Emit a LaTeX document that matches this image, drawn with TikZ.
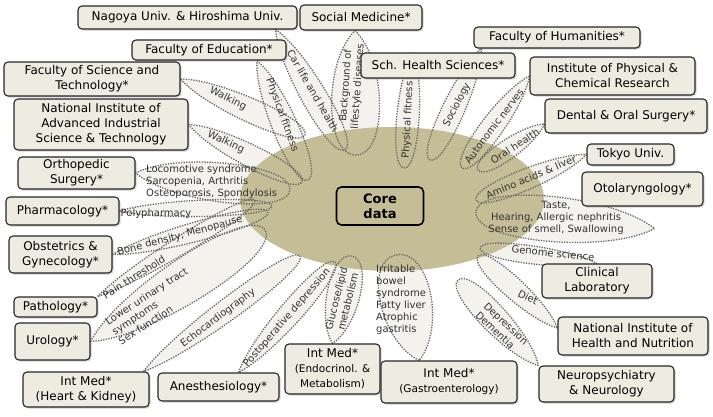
\documentclass[tikz,border=0pt]{standalone}
\usepackage{fontspec}
\setmainfont{DejaVu Sans}
\usetikzlibrary{calc,shadows}
\pgfdeclarelayer{back}
\pgfdeclarelayer{mid}
\pgfsetlayers{back,mid,main}
\definecolor{coreolive}{RGB}{197,189,150}
\definecolor{boxbeige}{RGB}{238,235,224}
\definecolor{petalgray}{RGB}{243,242,237}
\tikzset{
  inst/.style={draw=black!85, line width=1.1pt, rounded corners=4pt, fill=boxbeige,
    align=center, inner sep=1pt, font=\fontsize{12}{15}\selectfont,
    drop shadow={shadow xshift=1.5pt, shadow yshift=-1.5pt, opacity=0.35}},
  topic/.style={font=\fontsize{10}{12}\selectfont, text=black!80, inner sep=0pt},
  petal/.style={draw=black!60, line width=1.3pt, dash pattern=on 1.3pt off 1.3pt},
  core/.style={draw=black, line width=1.6pt, rounded corners=5pt, align=center,
    font=\fontsize{13}{15}\selectfont\bfseries, minimum width=87pt, minimum height=38pt}
}
% leaf from base #1 to round tip #2, width #3
\newcommand\petalpath[3]{(#1) .. controls ($(#1)!0.25!(#2)!#3!90:(#2)$) and ($(#2)!#3!-90:(#1)$) .. (#2)
  .. controls ($(#2)!#3!90:(#1)$) and ($(#1)!0.25!(#2)!#3!-90:(#2)$) .. (#1)}
\newcommand\subline{\fontsize{10.5}{13}\selectfont}
\begin{document}
\begin{tikzpicture}[x=1pt,y=-1pt,line join=round]
\useasboundingbox (0,0) rectangle (713,416);

%%%% institutions
\node[inst,minimum width=219pt,minimum height=23pt] (nagoya) at (187.5,17.5) {Nagoya Univ. \& Hiroshima Univ.};
\node[inst,minimum width=122pt,minimum height=25pt] (socmed) at (361,17.5) {Social Medicine*};
\node[inst,minimum width=154pt,minimum height=20pt] (edu) at (209,50) {Faculty of Education*};
\node[inst,minimum width=176pt,minimum height=34pt] (fst) at (92,79) {Faculty of Science and\\Technology*};
\node[inst,minimum width=174pt,minimum height=51pt] (aist) at (101,124.5) {National Institute of\\Advanced Industrial\\Science \& Technology};
\node[inst,minimum width=154pt,minimum height=25pt] (sch) at (438,65.5) {Sch. Health Sciences*};
\node[inst,minimum width=166pt,minimum height=21pt] (hum) at (557,37.5) {Faculty of Humanities*};
\node[inst,minimum width=165pt,minimum height=38pt] (ipcr) at (612.5,76) {Institute of Physical \&\\Chemical Research};
\node[inst,minimum width=162pt,minimum height=34pt] (dental) at (626,116) {Dental \& Oral Surgery*};
\node[inst,minimum width=87pt,minimum height=21pt] (tokyo) at (630.5,154.5) {Tokyo Univ.};
\node[inst,minimum width=121pt,minimum height=34pt] (oto) at (642.5,189) {Otolaryngology*};
\node[inst,minimum width=110pt,minimum height=34pt] (clin) at (597,281) {Clinical\\Laboratory};
\node[inst,minimum width=150pt,minimum height=38pt] (nihn) at (633,336) {National Institute of\\Health and Nutrition};
\node[inst,minimum width=135pt,minimum height=36pt] (neuro) at (606.5,384) {Neuropsychiatry\\\& Neurology};
\node[inst,minimum width=136pt,minimum height=42pt] (gastro) at (449,382) {Int Med*\\{\subline (Gastroenterology)}};
\node[inst,minimum width=95pt,minimum height=50pt] (endo) at (332.5,369) {Int Med*\\{\subline (Endocrinol. \&}\\{\subline Metabolism)}};
\node[inst,minimum width=121pt,minimum height=28pt] (anes) at (218.5,387) {Anesthesiology*};
\node[inst,minimum width=126pt,minimum height=35pt] (hk) at (86,389.5) {Int Med*\\(Heart \& Kidney)};
\node[inst,minimum width=75pt,minimum height=37pt] (uro) at (52.5,341.5) {Urology*};
\node[inst,minimum width=83pt,minimum height=20pt] (path) at (55.5,307) {Pathology*};
\node[inst,minimum width=103pt,minimum height=37pt] (obs) at (60.5,254.5) {Obstetrics \&\\Gynecology*};
\node[inst,minimum width=113pt,minimum height=28pt] (pharm) at (62.5,211) {Pharmacology*};
\node[inst,minimum width=117pt,minimum height=32pt] (ortho) at (76.5,173) {Orthopedic\\Surgery*};

%%%% petal bases and tips
\coordinate (eduB) at ([xshift=48pt]edu.south);
\coordinate (nagoyaB) at ([xshift=-22pt]nagoya.south east);
\coordinate (socB) at ([xshift=-6pt]socmed.south);
\coordinate (schB) at ([xshift=-25pt]sch.north);
\coordinate (humB) at ([xshift=8pt]hum.south west);
\coordinate (dentalB) at ([yshift=-8pt]dental.west);
\coordinate (tasteB) at ($(oto.south)+(12,22)$);
\coordinate (nihnB) at ([yshift=8pt]nihn.west);
\coordinate (gastroB) at ([xshift=-30pt]gastro.north);
\coordinate (anesB) at ([xshift=20pt]anes.north);
\coordinate (hkB) at ([xshift=-6pt]hk.north east);

\coordinate (walkA) at (305,135);
\coordinate (walkB) at (302,182);
\coordinate (fitA) at (308,180);
\coordinate (car) at (345,150);
\coordinate (life) at (356,155);
\coordinate (fitB) at (404,168);
\coordinate (soc) at (430,160);
\coordinate (auto) at (462,168);
\coordinate (oral) at (478,170);
\coordinate (amino) at (476,200);
\coordinate (taste) at (476,212);
\coordinate (genome) at (480,248);
\coordinate (diet) at (478,256);
\coordinate (dem) at (458,280);
\coordinate (ibs) at (396,255);
\coordinate (gluc) at (352,256);
\coordinate (postop) at (335,262);
\coordinate (echo) at (300,256);
\coordinate (luts) at (265,230);
\coordinate (pain) at (255,200);
\coordinate (bone) at (268,212);
\coordinate (poly) at (272,206);
\coordinate (loco) at (290,190);

\def\petals{fst.east/walkA/16pt, aist.east/walkB/15pt, eduB/fitA/17pt, nagoyaB/car/17pt,
  socB/life/32pt, schB/fitB/15pt, humB/soc/15pt, ipcr.west/auto/15pt,
  dentalB/oral/13pt, tokyo.west/amino/14pt, tasteB/taste/30pt, clin.north/genome/12pt,
  nihnB/diet/14pt, neuro.north west/dem/18pt, gastroB/ibs/34pt, endo.north/gluc/22pt,
  anesB/postop/15pt, hkB/echo/15pt, uro.east/luts/30pt, path.north east/pain/12pt,
  obs.east/bone/13pt, pharm.east/poly/11pt, ortho.east/loco/26pt}

\begin{pgfonlayer}{back}
  \foreach \a/\t/\w in \petals
    \fill[petalgray] \petalpath{\a}{\t}{\w};
  \fill[coreolive] (392,199) ellipse [x radius=152pt, y radius=72pt];
\end{pgfonlayer}

\begin{pgfonlayer}{mid}
  \foreach \a/\t/\w in \petals
    \draw[petal] \petalpath{\a}{\t}{\w};
  %%%% topics
  \node[topic,rotate=-26] (lwalkA) at (228,99) {Walking};
  \node[topic,rotate=-25] (lwalkB) at (226,142) {Walking};
  \node[topic,rotate=-70] (lfitA) at (282,115) {Physical fitness};
  \node[topic,rotate=-60] (lcar) at (313,91) {Car life and health};
  \node[topic,rotate=86,align=center] (llife) at (352,86) {Background of\\lifestyle diseases};
  \node[topic,rotate=87] (lfitB) at (408,120) {Physical fitness};
  \node[topic,rotate=63] (lsoc) at (457,105) {Sociology};
  \node[topic,rotate=53] (lauto) at (494,126) {Autonomic nerves};
  \node[topic,rotate=33] (loral) at (515,146) {Oral health};
  \node[topic,rotate=23] (lamino) at (531,177) {Amino acids \& liver};
  \node[topic,align=center] (ltaste) at (556,218) {Taste,\\Hearing, Allergic nephritis\\Sense of smell, Swallowing};
  \node[topic,rotate=-6] (lgenome) at (553,253) {Genome science};
  \node[topic,rotate=-25] (ldiet) at (528,297) {Diet};
  \node[topic,rotate=-43,align=left] (ldem) at (502,328) {Depression\\Dementia};
  \node[topic,align=left,anchor=north west] (libs) at (376,265) {Irritable\\bowel\\syndrome\\Fatty liver\\Atrophic\\gastritis};
  \node[topic,rotate=76,align=center] (lgluc) at (342,300) {Glucose/lipid\\metabolism};
  \node[topic,rotate=49] (lpostop) at (287,318) {Postoperative depression};
  \node[topic,rotate=37] (lecho) at (218,318) {Echocardiography};
  \node[topic,rotate=33,align=left] (lluts) at (153,306) {Lower urinary tract\\symptoms\\Sex function};
  \node[topic,rotate=32] (lpain) at (134,277) {Pain threshold};
  \node[topic,rotate=15] (lbone) at (180,236) {Bone density, Menopause};
  \node[topic] (lpoly) at (156,214) {Polypharmacy};
  \node[topic,align=left,anchor=west] (lloco) at (146,182) {Locomotive syndrome\\Sarcopenia, Arthritis\\Osteoporosis, Spondylosis};
  %%%% centre
  \node[core] (core) at (380,206) {Core\\data};
\end{pgfonlayer}
\end{tikzpicture}
\end{document}
